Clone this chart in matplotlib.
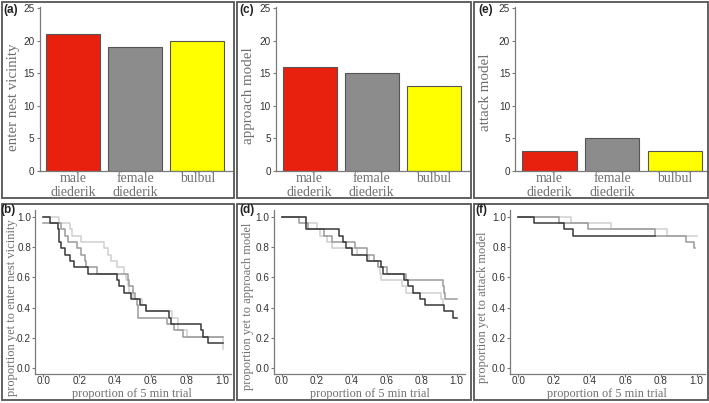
import matplotlib
matplotlib.use("Agg")
import matplotlib.pyplot as plt
from matplotlib.patches import Rectangle
from matplotlib import font_manager

# ---------------- data ----------------
groups = ["male\ndiederik", "female\ndiederik", "bulbul"]
bar_colors = ["#e8210f", "#8c8c8c", "#ffff00"]
enter_counts = [21, 19, 20]
approach_counts = [16, 15, 13]
attack_counts = [3, 5, 3]

# Kaplan-Meier style curves (time as proportion of trial, proportion remaining)
# panel (b) enter nest vicinity
male_b_t = [0, 0.04, 0.08, 0.09, 0.10, 0.12, 0.15, 0.17, 0.25, 0.41, 0.42, 0.45, 0.49, 0.54, 0.57, 0.70, 0.71, 0.88, 0.89, 0.92]
male_b_s = [1.0, 0.958, 0.917, 0.833, 0.792, 0.75, 0.708, 0.667, 0.625, 0.583, 0.542, 0.5, 0.458, 0.417, 0.375, 0.333, 0.292, 0.25, 0.208, 0.167]
male_b_end = 1.0
female_b_t = [0, 0.10, 0.12, 0.14, 0.19, 0.21, 0.23, 0.24, 0.30, 0.47, 0.48, 0.50, 0.51, 0.52, 0.53, 0.69, 0.73, 0.78]
female_b_s = [0.958, 0.917, 0.875, 0.833, 0.792, 0.75, 0.708, 0.667, 0.625, 0.583, 0.542, 0.5, 0.458, 0.417, 0.333, 0.292, 0.25, 0.208]
female_b_end = 1.0
bulbul_b_t = [0, 0.09, 0.15, 0.16, 0.21, 0.34, 0.36, 0.38, 0.41, 0.45, 0.46, 0.47, 0.48, 0.50, 0.55, 0.57, 0.72, 0.75, 0.80, 1.0]
bulbul_b_s = [1.0, 0.958, 0.917, 0.875, 0.833, 0.792, 0.75, 0.708, 0.667, 0.625, 0.583, 0.542, 0.5, 0.458, 0.417, 0.375, 0.333, 0.25, 0.208, 0.125]
bulbul_b_end = 1.0

# panel (d) approach model
male_d_t = [0, 0.14, 0.33, 0.35, 0.37, 0.40, 0.49, 0.567, 0.58, 0.70, 0.72, 0.75, 0.79, 0.82, 0.93, 0.98]
male_d_s = [1.0, 0.917, 0.875, 0.833, 0.792, 0.75, 0.708, 0.667, 0.625, 0.583, 0.542, 0.5, 0.458, 0.417, 0.375, 0.333]
male_d_end = 1.0
female_d_t = [0, 0.10, 0.15, 0.24, 0.29, 0.42, 0.49, 0.53, 0.55, 0.60, 0.71, 0.92, 0.925, 0.935]
female_d_s = [1.0, 0.958, 0.917, 0.875, 0.833, 0.792, 0.75, 0.708, 0.667, 0.625, 0.583, 0.542, 0.5, 0.458]
female_d_end = 1.0
bulbul_d_t = [0, 0.14, 0.20, 0.22, 0.26, 0.29, 0.43, 0.50, 0.55, 0.56, 0.57, 0.69, 0.71, 0.91, 0.92]
bulbul_d_s = [1.0, 0.958, 0.917, 0.875, 0.833, 0.792, 0.75, 0.708, 0.667, 0.625, 0.583, 0.542, 0.5, 0.458, 0.417]
bulbul_d_end = 0.92

# panel (f) attack model
male_f_t = [0, 0.088, 0.257, 0.308]
male_f_s = [1.0, 0.958, 0.917, 0.875]
male_f_end = 0.765
female_f_t = [0, 0.23, 0.39, 0.765, 0.94, 0.985]
female_f_s = [1.0, 0.958, 0.917, 0.875, 0.833, 0.792]
female_f_end = 0.99
bulbul_f_t = [0, 0.295, 0.517, 0.835]
bulbul_f_s = [1.0, 0.958, 0.917, 0.875]
bulbul_f_end = 1.0

line_colors = {"male": "#383838", "female": "#9a9a9a", "bulbul": "#cfcfcf"}

bar_ylabels = ["enter nest vicinity", "approach model", "attack model"]
km_ylabels = ["proportion yet to enter nest vicinity", "proportion yet to approach model",
              "proportion yet to attack model"]
km_xlabel = "proportion of 5 min trial"
letters_top = ["(a)", "(c)", "(e)"]
letters_bot = ["(b)", "(d)", "(f)"]
km_ticks = [0.0, 0.2, 0.4, 0.6, 0.8, 1.0]
km_ticklabels = ["0.0", "0.2", "0.4", "0.6", "0.8", "1.0"]
bar_ticks = [0, 5, 10, 15, 20, 25]

# ---------------- figure ----------------
W, H = 709, 403
fig = plt.figure(figsize=(W / 100, H / 100), dpi=100)
fig.patch.set_facecolor("white")

_names = {f.name for f in font_manager.fontManager.ttflist}
NARROW = [n for n in ["Liberation Sans Narrow", "DejaVu Sans Condensed"] if n in _names]
TICKFONT = NARROW + ["Liberation Sans", "DejaVu Sans"]
TICKSIZE = 8.0 if NARROW else 7.2
SANS = ["Liberation Sans", "DejaVu Sans"]
SERIF = ["Liberation Serif", "DejaVu Serif"]
TICKC = "#333333"
LABC = "#707070"
SPINEC = "#7a7a7a"


def ax_px(l, t, r, b):
    return fig.add_axes([l / W, 1 - b / H, (r - l) / W, (b - t) / H])


def box_px(l, t, r, b):
    fig.patches.append(Rectangle((l / W, 1 - b / H), (r - l) / W, (b - t) / H,
                                 transform=fig.transFigure, fill=False,
                                 edgecolor="#555555", lw=1.3))


def ftext(x, y, s, **kw):
    return fig.text(x / W, 1 - y / H, s, **kw)


# panel frames
for (l, r) in [(1.5, 234), (237, 471), (474, 707.5)]:
    box_px(l, 1.5, r, 198)
    box_px(l, 203.5, r, 400)


def style(ax):
    for s in ["top", "right"]:
        ax.spines[s].set_visible(False)
    for s in ["left", "bottom"]:
        ax.spines[s].set_color(SPINEC)
        ax.spines[s].set_linewidth(0.9)
    ax.tick_params(colors=SPINEC, length=2.0, width=0.8, labelcolor=TICKC, pad=1.5)
    for lab in ax.get_yticklabels() + ax.get_xticklabels():
        lab.set_fontfamily(TICKFONT)
        lab.set_fontsize(TICKSIZE)
    ax.set_facecolor("none")


# top bar panels: (left, right, x-range, ylabel x, ylabel y)
top_geo = [(39.5, 232.0, 0.455, 3.56, 13.3, 97.5),
           (275.7, 468.5, 0.455, 3.56, 248.5, 95.5),
           (515.0, 707.0, 0.454, 3.51, 485.0, 92.5)]
bar_data = [enter_counts, approach_counts, attack_counts]
for i, (l, r, x0, x1, lx, ly) in enumerate(top_geo):
    ax = ax_px(l, 6.5, r, 171)
    ax.bar([1, 2, 3], bar_data[i], width=0.87, color=bar_colors,
           edgecolor="#555555", linewidth=0.8)
    ax.set_xlim(x0, x1)
    ax.set_ylim(0, 25.3)
    ax.set_yticks(bar_ticks)
    ax.set_xticks([1, 2, 3])
    ax.set_xticklabels(groups)
    style(ax)
    for lab in ax.get_xticklabels():
        lab.set_fontfamily(SERIF)
        lab.set_fontsize(10)
        lab.set_color(LABC)
        lab.set_linespacing(1.1)
    ax.tick_params(axis="x", length=0, pad=1)
    ftext(lx, ly, bar_ylabels[i], fontfamily=SERIF, fontsize=10.8, color=LABC,
          rotation=90, ha="center", va="center")
    ftext(l - 36.5, 9.5, letters_top[i], fontfamily=SANS,
          fontweight="bold", fontsize=8.5, color="#222222", va="center", ha="left")

# bottom KM panels: px of data 0 and 1 on x, label positions
bot_geo = [(43.3, 222.7, 12.0, 308.0, 131.7),
           (281.7, 456.7, 247.8, 306.5, 370.0),
           (518.3, 696.7, 483.0, 307.5, 606.5)]
y0px, y1px = 368.3, 216.7
km_sets = [
    [(bulbul_b_t, bulbul_b_s, bulbul_b_end, "bulbul"), (female_b_t, female_b_s, female_b_end, "female"),
     (male_b_t, male_b_s, male_b_end, "male")],
    [(bulbul_d_t, bulbul_d_s, bulbul_d_end, "bulbul"), (female_d_t, female_d_s, female_d_end, "female"),
     (male_d_t, male_d_s, male_d_end, "male")],
    [(bulbul_f_t, bulbul_f_s, bulbul_f_end, "bulbul"), (female_f_t, female_f_s, female_f_end, "female"),
     (male_f_t, male_f_s, male_f_end, "male")],
]
XLO, XHI, YLO, YHI = -0.045, 1.045, -0.04, 1.045
for i, (p0, p1, lx, ly, xx) in enumerate(bot_geo):
    ux = p1 - p0
    uy = y0px - y1px
    l = p0 + XLO * ux
    r = p0 + XHI * ux
    b = y0px - YLO * uy
    t = y0px - YHI * uy
    ax = ax_px(l, t, r, b)
    for (tt, ss, end, key) in km_sets[i]:
        xs = list(tt) + [end]
        ys = list(ss) + [ss[-1]]
        ax.step(xs, ys, where="post", color=line_colors[key], lw=1.1)
    ax.set_xlim(XLO, XHI)
    ax.set_ylim(YLO, YHI)
    ax.set_xticks(km_ticks)
    ax.set_yticks(km_ticks)
    ax.set_xticklabels(km_ticklabels)
    ax.set_yticklabels(km_ticklabels)
    style(ax)
    ax.tick_params(axis="x", pad=-1.0)
    ax.tick_params(axis="y", pad=1.0)
    ftext(xx, 394.3, km_xlabel, fontfamily=SERIF, fontsize=8.8, color=LABC,
          ha="center", va="center")
    ftext(lx, ly, km_ylabels[i], fontfamily=SERIF, fontsize=9.0, color=LABC,
          rotation=90, ha="center", va="center")
    ftext(l - 34.5, 210, letters_bot[i], fontfamily=SANS,
          fontweight="bold", fontsize=8.5, color="#222222", va="center", ha="left")

fig.savefig("out.png", dpi=100, facecolor="white")
